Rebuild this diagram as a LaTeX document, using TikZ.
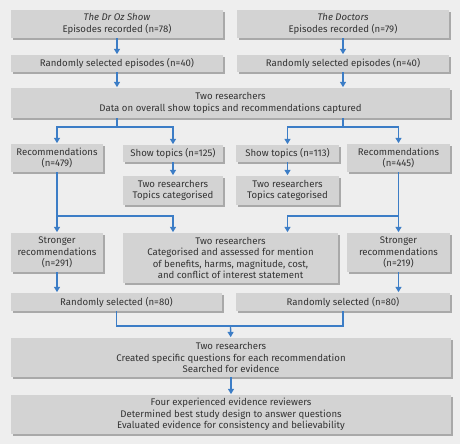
\documentclass[tikz,border=0pt]{standalone}
\usepackage{fontspec}
\setmainfont{Fira Sans}
\usepackage{tikz}
\usetikzlibrary{arrows.meta,shadows}

\definecolor{pagegrey}{HTML}{EEEEEE}
\definecolor{boxgrey}{HTML}{D3D3D3}
\definecolor{boxedge}{HTML}{A9A9A9}
\definecolor{flowblue}{HTML}{3C7DC6}
\definecolor{inkgrey}{HTML}{333333}

\tikzset{
    box/.style 2 args={fill=boxgrey, align=center, inner sep=0pt, text=inkgrey,
        font=\fontsize{8.2}{9.8}\selectfont,
        minimum width=#1*0.03cm, minimum height=#2*0.03cm,
        drop shadow={shadow xshift=0.06cm, shadow yshift=-0.06cm, fill=boxedge, opacity=1}},
    link/.style={draw=flowblue, line width=1.2pt},
    flow/.style={link, -{Triangle[length=4.5pt,width=5pt]}, shorten >=0.5pt}
}

\begin{document}
\begin{tikzpicture}[x=0.03cm, y=-0.03cm]
        \fill[pagegrey] (0,0) rectangle (460,444);

        \node[box={212}{28}] (ozEp) at (117,24) {\textit{The Dr Oz Show}\\Episodes recorded (n=78)};
        \node[box={212}{28}] (docEp) at (343,24) {\textit{The Doctors}\\Episodes recorded (n=79)};
        \node[box={212}{17}] (ozRand) at (117,63.5) {Randomly selected episodes (n=40)};
        \node[box={212}{17}] (docRand) at (343,63.5) {Randomly selected episodes (n=40)};
        \node[box={439}{30}] (data) at (230.5,103) {Two researchers\\Data on overall show topics and recommendations captured};

        \node[box={92}{28}] (ozRec) at (57,158) {Recommendations\\(n=479)};
        \node[box={100}{17}] (ozTop) at (173,153.5) {Show topics (n=125)};
        \node[box={100}{29}] (ozCat) at (173,190.5) {Two researchers\\Topics categorised};
        \node[box={103}{17}] (docTop) at (287.5,153.5) {Show topics (n=113)};
        \node[box={103}{29}] (docCat) at (287.5,190.5) {Two researchers\\Topics categorised};
        \node[box={103}{28}] (docRec) at (398.5,158) {Recommendations\\(n=445)};

        \node[box={92}{39}] (ozStr) at (57,252.5) {Stronger\\recommendations\\(n=291)};
        \node[box={215}{50}] (cat) at (230.5,258) {Two researchers\\Categorised and assessed for mention\\of benefits, harms, magnitude, cost,\\and conflict of interest statement};
        \node[box={103}{39}] (docStr) at (398.5,252.5) {Stronger\\recommendations\\(n=219)};
        \node[box={211}{18}] (ozSel) at (116.5,302) {Randomly selected (n=80)};
        \node[box={214}{18}] (docSel) at (343,302) {Randomly selected (n=80)};

        \node[box={440}{39}] (created) at (231,357.5) {Two researchers\\Created specific questions for each recommendation\\Searched for evidence};
        \node[box={440}{39}] (four) at (231,414.5) {Four experienced evidence reviewers\\Determined best study design to answer questions\\Evaluated evidence for consistency and believability};

        \coordinate (ozFork) at (117,127);
        \coordinate (docFork) at (343,127);
        \coordinate (ozJoin) at (57,216);
        \coordinate (docJoin) at (398.5,216);
        \coordinate (selJoin) at (230.5,326);

        \draw[flow] (ozEp) -- (ozRand);
        \draw[flow] (docEp) -- (docRand);
        \draw[flow] (ozRand) -- (ozRand |- data.north);
        \draw[flow] (docRand) -- (docRand |- data.north);

        \draw[link] (data.south -| ozFork) -- (ozFork);
        \draw[flow] (ozFork) -| (ozRec.north);
        \draw[flow] (ozFork) -| (ozTop.north);
        \draw[link] (data.south -| docFork) -- (docFork);
        \draw[flow] (docFork) -| (docTop.north);
        \draw[flow] (docFork) -| (docRec.north);

        \draw[flow] (ozTop) -- (ozCat);
        \draw[flow] (docTop) -- (docCat);
        \draw[flow] (ozRec) -- (ozStr);
        \draw[flow] (docRec) -- (docStr);
        \draw[flow] (ozJoin) -| (cat.north -| ozTop);
        \draw[flow] (docJoin) -| (cat.north -| docTop);

        \draw[flow] (ozStr) -- (ozStr |- ozSel.north);
        \draw[flow] (docStr) -- (docStr |- docSel.north);
        \draw[link] (ozSel.south) |- (selJoin) -| (docSel.south);
        \draw[flow] (selJoin) -- (created);
        \draw[flow] (created) -- (four);
\end{tikzpicture}
\end{document}
